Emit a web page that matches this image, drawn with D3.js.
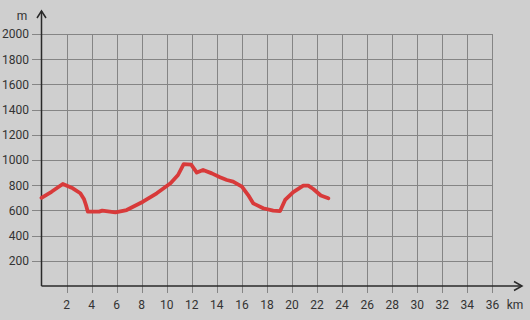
<!DOCTYPE html>
<html>
<head>
<meta charset="utf-8">
<script src="https://cdn.jsdelivr.net/npm/d3@7"></script>
<style>
  html, body { margin: 0; padding: 0; background: #cfcfcf; }
  svg { display: block; }
  text { font-family: Roboto, "Noto Sans", sans-serif; font-size: 12px; fill: #333; }
</style>
</head>
<body>
<div id="container"></div>
<script>
// elevation profile: distance (km) and altitude (m)
var distKm = [0, 0.8, 1.7, 2.5, 3.1, 3.4, 3.55, 3.7, 4.6, 4.85, 5.9, 6.8, 8.1, 9.2, 10.3, 10.9, 11.35, 11.95, 12.4, 12.9,
              13.6, 14.25, 14.8, 15.3, 16.0, 16.5, 16.9, 17.7, 18.5, 19.05, 19.45, 20.1, 20.9, 21.3, 21.7, 22.3, 22.9];
var altM = [700, 748, 810, 775, 736, 688, 643, 590, 590, 598, 585, 603, 669, 736, 815, 881, 968, 963, 900, 921,
            894, 863, 841, 828, 788, 722, 656, 617, 598, 595, 683, 745, 796, 796, 770, 718, 696];

var xTicks = [2, 4, 6, 8, 10, 12, 14, 16, 18, 20, 22, 24, 26, 28, 30, 32, 34, 36];
var yTicks = [200, 400, 600, 800, 1000, 1200, 1400, 1600, 1800, 2000];

function chart() {
    var width = 530, height = 320;
    var x0 = 41.5, x1 = 492.4, y0 = 286, y1 = 34;

    const x = d3.scaleLinear().domain([0, 36]).range([x0, x1]);
    const y = d3.scaleLinear().domain([0, 2000]).range([y0, y1]);

    const svg = d3.select("div#container").append("svg")
        .attr("width", width)
        .attr("height", height);

    svg.append("rect").attr("width", width).attr("height", height).attr("fill", "#cfcfcf");

    // grid
    const grid = svg.append("g").attr("stroke", "#858585").attr("stroke-width", 1);
    grid.selectAll("line.h")
        .data(yTicks)
        .join("line")
        .attr("x1", 32)
        .attr("x2", x(36))
        .attr("y1", d => Math.round(y(d)) + 0.5)
        .attr("y2", d => Math.round(y(d)) + 0.5);

    grid.append("g").selectAll("line")
        .data(xTicks)
        .join("line")
        .attr("x1", d => Math.round(x(d)) + 0.5)
        .attr("x2", d => Math.round(x(d)) + 0.5)
        .attr("y1", y(2000))
        .attr("y2", y0 + 7);

    // labels
    svg.append("g").selectAll("text")
        .data(yTicks)
        .join("text")
        .attr("x", 29)
        .attr("y", d => y(d))
        .attr("dy", "0.36em")
        .attr("text-anchor", "end")
        .text(d => d);

    svg.append("g").selectAll("text")
        .data(xTicks)
        .join("text")
        .attr("x", d => x(d))
        .attr("y", 305)
        .attr("dy", "0.36em")
        .attr("text-anchor", "middle")
        .text(d => d);

    svg.append("text").attr("x", 22).attr("y", 16).attr("dy", "0.36em")
        .attr("text-anchor", "middle").text("m");
    svg.append("text").attr("x", 515).attr("y", 305).attr("dy", "0.36em")
        .attr("text-anchor", "middle").text("km");

    // axes with arrows
    const ax = svg.append("g").attr("stroke", "#2a2a2a").attr("stroke-width", 1.5).attr("fill", "none");
    ax.append("line").attr("x1", x0).attr("x2", x0).attr("y1", y0).attr("y2", 11);
    ax.append("path").attr("d", `M${x0 - 4.5},18 L${x0},11 L${x0 + 4.5},18`);
    ax.append("line").attr("x1", x0).attr("x2", 522).attr("y1", y0).attr("y2", y0);
    ax.append("path").attr("d", `M514,${y0 - 4.5} L522,${y0} L514,${y0 + 4.5}`);

    // profile line
    const line = d3.line()
        .x((d, i) => x(distKm[i]))
        .y(d => y(d));

    svg.append("path")
        .datum(altM)
        .attr("fill", "none")
        .attr("stroke", "#d83a3a")
        .attr("stroke-width", 3.8)
        .attr("stroke-linejoin", "round")
        .attr("stroke-linecap", "round")
        .attr("d", line);
}

chart();
</script>
</body>
</html>
